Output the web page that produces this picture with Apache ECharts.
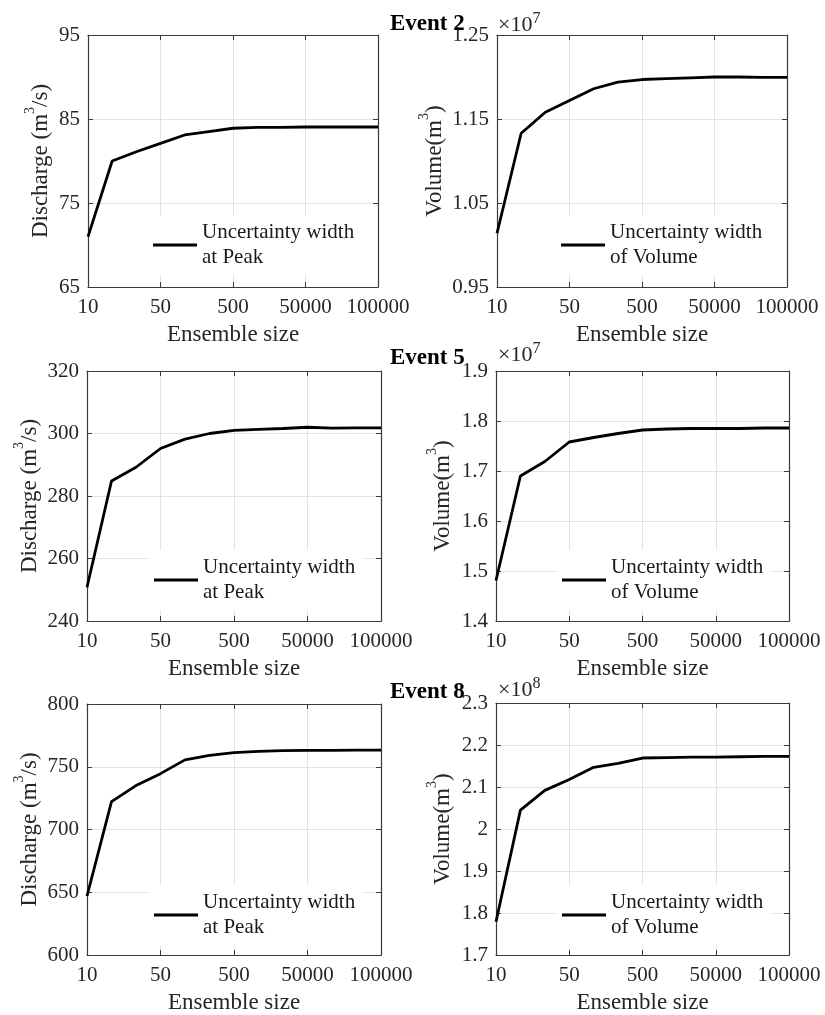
<!DOCTYPE html>
<html><head><meta charset="utf-8">
<script src="https://cdn.jsdelivr.net/npm/echarts@6/dist/echarts.min.js"></script>
<style>html,body{margin:0;padding:0;background:#fff}#c{width:825px;height:1015px}</style>
</head><body><div id="c"></div>
<script>
// Ensemble sizes (category axis; labels shown at every third point)
const ensembleSizes = ['10','20','30','50','100','200','500','1000','10000','50000','60000','80000','100000'];

// Event 2
const peakEvent2 = [71.0, 80.0, 81.1, 82.1, 83.1, 83.5, 83.9, 84.0, 84.0, 84.05, 84.05, 84.05, 84.05];
const volEvent2  = [1.014e7, 1.133e7, 1.158e7, 1.172e7, 1.186e7, 1.194e7, 1.197e7, 1.198e7, 1.199e7, 1.2e7, 1.2e7, 1.1995e7, 1.1995e7];
// Event 5
const peakEvent5 = [250.8, 284.8, 289.2, 295.2, 298.2, 300.0, 301.0, 301.3, 301.6, 302.0, 301.7, 301.8, 301.8];
const volEvent5  = [1.481e7, 1.690e7, 1.719e7, 1.758e7, 1.767e7, 1.775e7, 1.782e7, 1.784e7, 1.785e7, 1.785e7, 1.785e7, 1.786e7, 1.786e7];
// Event 8
const peakEvent8 = [647, 722.2, 735, 744.5, 755.5, 759, 761.3, 762.2, 762.8, 763, 763, 763.2, 763.2];
const volEvent8  = [1.779e8, 2.045e8, 2.092e8, 2.118e8, 2.147e8, 2.156e8, 2.169e8, 2.170e8, 2.171e8, 2.171e8, 2.172e8, 2.173e8, 2.173e8];

const eventTitles = ['Event 2', 'Event 5', 'Event 8'];
const peakName = 'Uncertainty width\nat Peak';
const volName = 'Uncertainty width\nof Volume';

const FONT = 'Liberation Serif';
const TXT = '#262626';

const panels = [
  {grid:{left:88,top:35,width:290,height:252}, data:peakEvent2, min:65, max:95, interval:10, scale:1, kind:'peak', nameGap:36, legend:{left:148,top:215}},
  {grid:{left:497,top:35,width:290,height:252}, data:volEvent2, min:0.95e7, max:1.25e7, interval:0.1e7, scale:1e7, kind:'vol', nameGap:51, legend:{left:556,top:215}},
  {grid:{left:87,top:371,width:294,height:250}, data:peakEvent5, min:240, max:320, interval:20, scale:1, kind:'peak', nameGap:46, legend:{left:149,top:550}},
  {grid:{left:496,top:371,width:293,height:250}, data:volEvent5, min:1.4e7, max:1.9e7, interval:0.1e7, scale:1e7, kind:'vol', nameGap:42, legend:{left:557,top:550}},
  {grid:{left:87,top:704,width:294,height:252}, data:peakEvent8, min:600, max:800, interval:50, scale:1, kind:'peak', nameGap:46, legend:{left:149,top:885}},
  {grid:{left:496,top:703,width:293,height:253}, data:volEvent8, min:1.7e8, max:2.3e8, interval:0.1e8, scale:1e8, kind:'vol', nameGap:42, legend:{left:557,top:885}}
];

const grids = [], xAxes = [], yAxes = [], series = [], legends = [];
const axisLine = {show:true, lineStyle:{color:'#3a3a3a', width:1.2}};
const tick = {show:true, inside:true, length:5, lineStyle:{color:'#3a3a3a', width:1}};

panels.forEach((p, i) => {
  grids.push(Object.assign({containLabel:false}, p.grid));
  const nm = p.kind === 'peak' ? peakName : volName;
  xAxes.push({
    type:'category', gridIndex:i, data:ensembleSizes, boundaryGap:false, position:'bottom',
    axisLine, axisTick:Object.assign({interval:2}, tick),
    axisLabel:{interval:2, margin:10, fontFamily:FONT, fontSize:21, color:TXT},
    splitLine:{show:true, interval:2, lineStyle:{color:'#e3e3e3', width:1}},
    name:'Ensemble size', nameLocation:'middle', nameGap:36,
    nameTextStyle:{fontFamily:FONT, fontSize:23, color:TXT}
  });
  xAxes.push({
    type:'category', gridIndex:i, data:ensembleSizes, boundaryGap:false, position:'top',
    axisLine, axisTick:Object.assign({interval:2}, tick), axisLabel:{show:false}, splitLine:{show:false}
  });
  const nameRich = p.kind === 'peak' ? '{a|Discharge (m}{s|3}{a|/s)}' : '{a|Volume(m}{s|3}{a|)}';
  yAxes.push({
    type:'value', gridIndex:i, min:p.min, max:p.max, interval:p.interval, position:'left',
    axisLine, axisTick:tick,
    axisLabel:{margin:8, fontFamily:FONT, fontSize:21, color:TXT,
      formatter: v => String(parseFloat((v / p.scale).toFixed(3)))},
    splitLine:{show:true, lineStyle:{color:'#e3e3e3', width:1}},
    name:nameRich, nameLocation:'middle', nameGap:p.nameGap,
    nameTextStyle:{fontFamily:FONT, color:TXT, rich:{
      a:{fontFamily:FONT, fontSize:23, color:TXT, verticalAlign:'bottom'},
      s:{fontFamily:FONT, fontSize:14, lineHeight:29, color:TXT, verticalAlign:'top'}
    }}
  });
  yAxes.push({
    type:'value', gridIndex:i, min:p.min, max:p.max, interval:p.interval, position:'right',
    axisLine, axisTick:tick, axisLabel:{show:false}, splitLine:{show:false}
  });
  series.push({
    type:'line', name:nm, xAxisIndex:2*i, yAxisIndex:2*i, data:p.data,
    showSymbol:false, symbol:'none', lineStyle:{color:'#000', width:2.8}, itemStyle:{color:'#000'},
    z:5, animation:false
  });
  legends.push({
    data:[nm], left:p.legend.left, top:p.legend.top, orient:'vertical', icon:'rect',
    itemWidth:44, itemHeight:3, backgroundColor:'#fff', padding:[5,8,5,5], selectedMode:false,
    textStyle:{fontFamily:FONT, fontSize:21, lineHeight:25, color:'#1a1a1a'}
  });
});

const titleTops = [13, 347, 681];
const expTops = [10.6, 340.6, 675.6];
const exps = ['7','7','8'];
const titles = [];
eventTitles.forEach((t, r) => {
  titles.push({text:t, left:390, top:titleTops[r], padding:0,
    textStyle:{fontFamily:FONT, fontWeight:'bold', fontSize:23, color:'#000'}});
  titles.push({text:'{b|×10}{s|' + exps[r] + '}', left:498, top:expTops[r], padding:0,
    textStyle:{fontWeight:'normal', rich:{
      b:{fontFamily:FONT, fontWeight:'normal', fontSize:22, color:TXT, verticalAlign:'bottom'},
      s:{fontFamily:FONT, fontWeight:'normal', fontSize:16, lineHeight:26, color:TXT, verticalAlign:'top'}
    }}});
});

const chart = echarts.init(document.getElementById('c'), null, {renderer:'canvas'});
chart.setOption({
  animation:false, backgroundColor:'#fff',
  title:titles, grid:grids, xAxis:xAxes, yAxis:yAxes, series, legend:legends
});
</script></body></html>
